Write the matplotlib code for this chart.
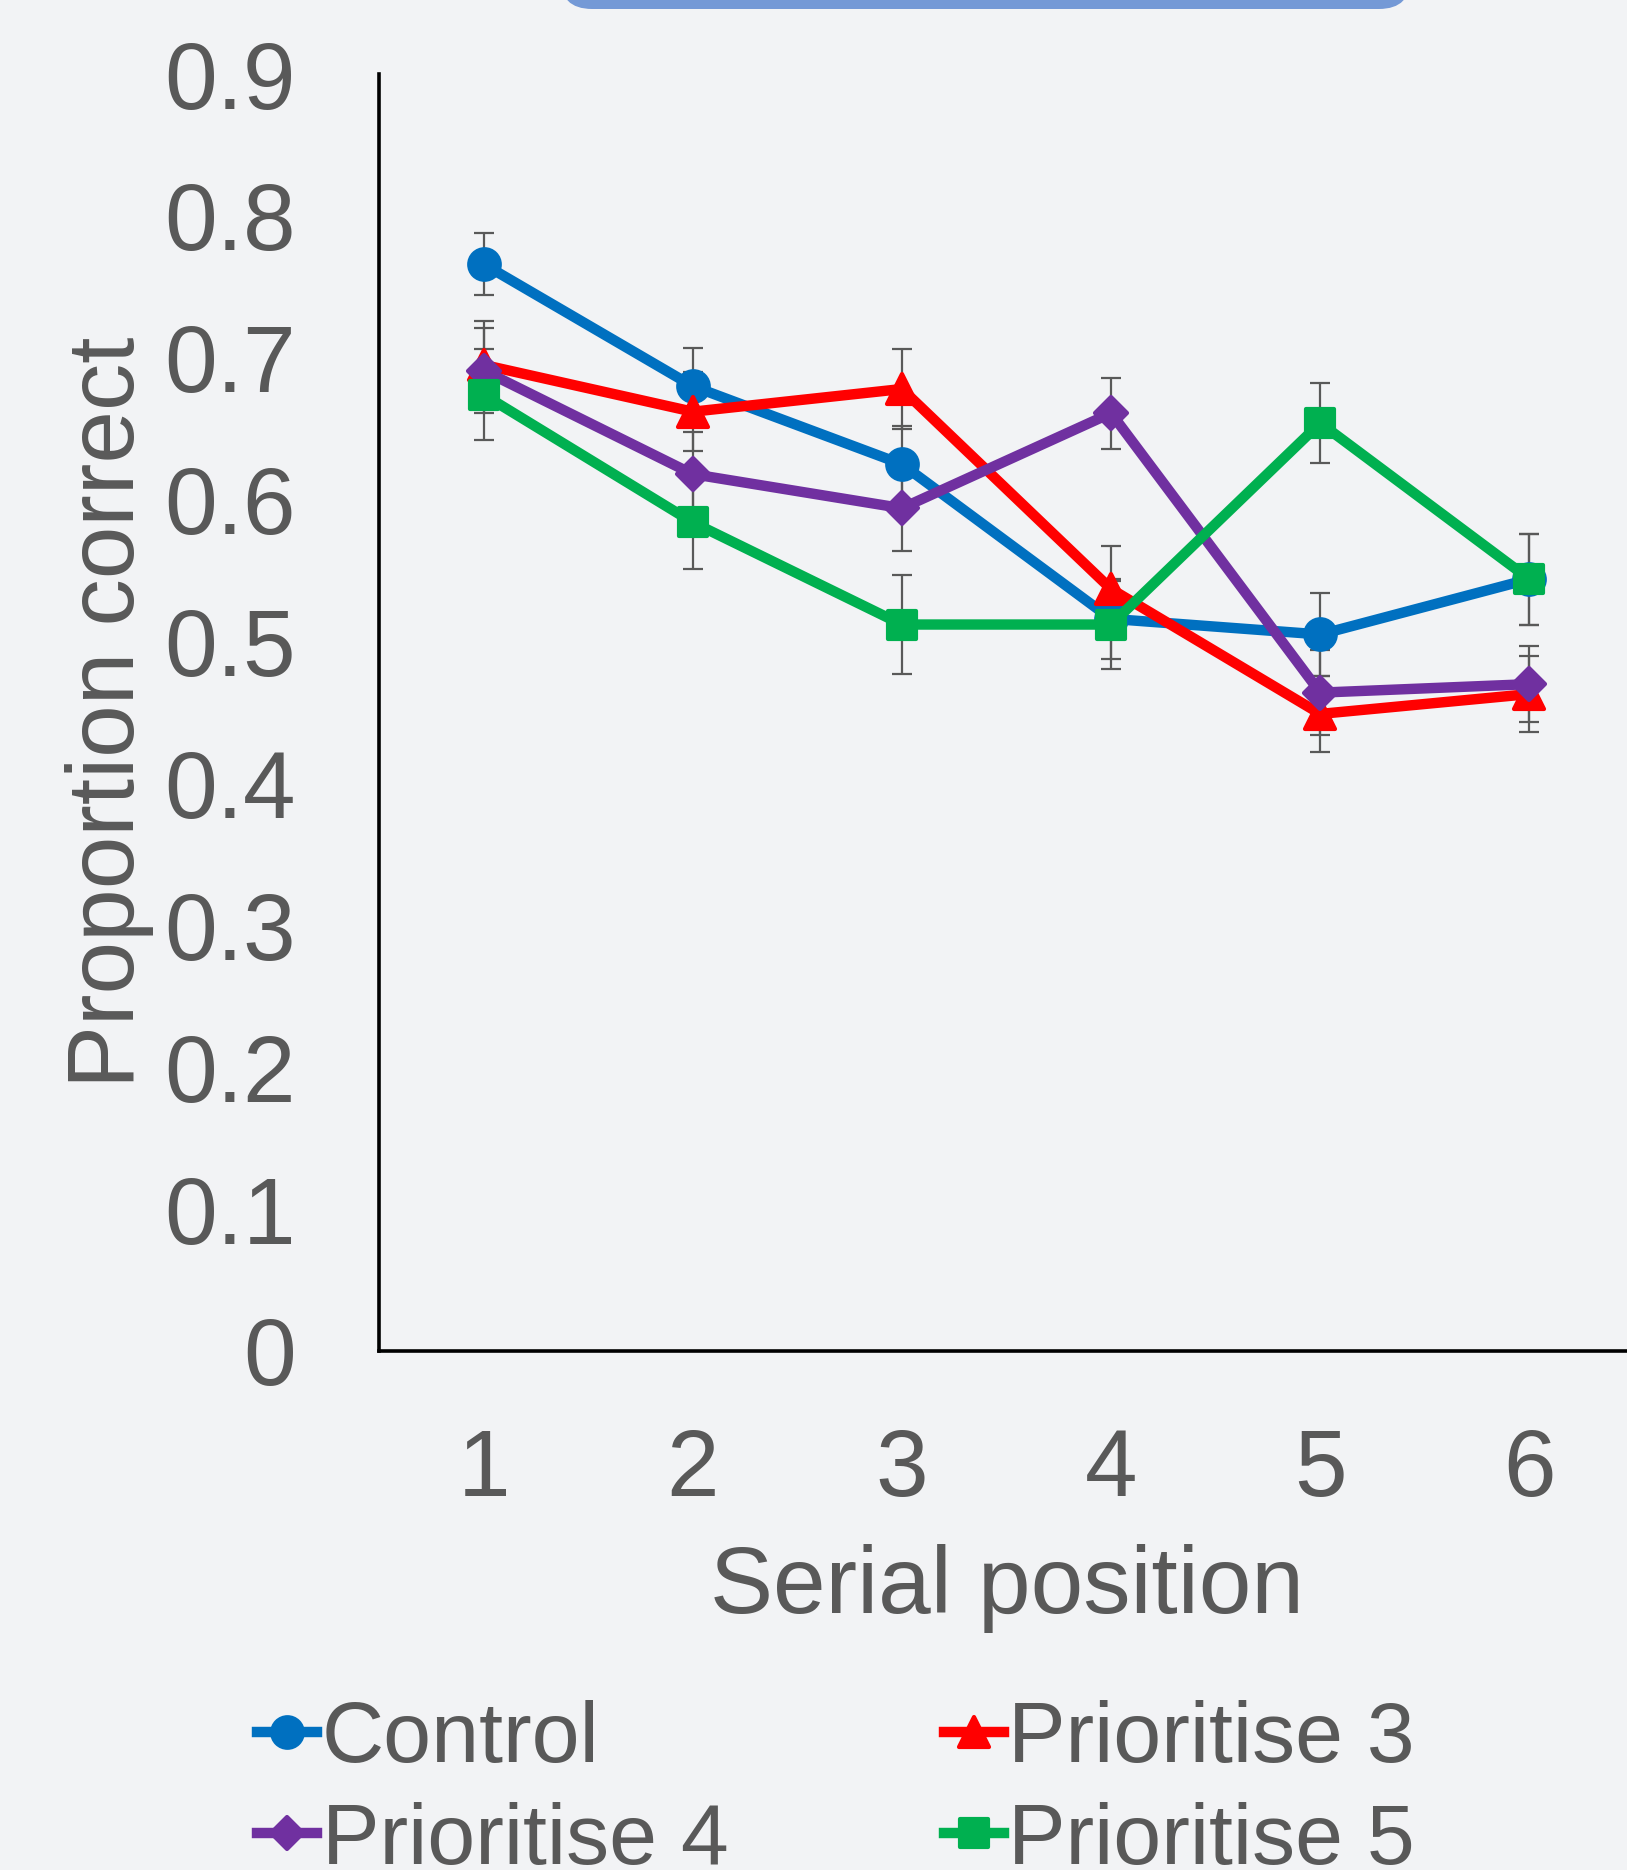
import matplotlib
matplotlib.use("Agg")
import matplotlib.pyplot as plt
from matplotlib.markers import MarkerStyle
from matplotlib.patches import FancyBboxPatch
from matplotlib.transforms import IdentityTransform

plt.rcParams['font.family'] = ['Liberation Sans', 'DejaVu Sans']

positions = [1, 2, 3, 4, 5, 6]
series_names = ["Control", "Prioritise 3", "Prioritise 4", "Prioritise 5"]
control = [0.766, 0.680, 0.625, 0.516, 0.505, 0.544]
prioritise3 = [0.695, 0.662, 0.678, 0.537, 0.449, 0.463]
prioritise4 = [0.691, 0.618, 0.594, 0.661, 0.464, 0.470]
prioritise5 = [0.674, 0.584, 0.512, 0.512, 0.654, 0.544]
control_err = [0.022, 0.027, 0.027, 0.028, 0.029, 0.032]
prioritise3_err = [0.031, 0.028, 0.028, 0.030, 0.027, 0.027]
prioritise4_err = [0.030, 0.030, 0.030, 0.025, 0.030, 0.027]
prioritise5_err = [0.032, 0.033, 0.035, 0.031, 0.028, 0.032]
yticks = [0, 0.1, 0.2, 0.3, 0.4, 0.5, 0.6, 0.7, 0.8, 0.9]
ytick_labels = ["0", "0.1", "0.2", "0.3", "0.4", "0.5", "0.6", "0.7", "0.8", "0.9"]

colors = ["#0070C0", "#FF0000", "#7030A0", "#00B050"]
markers = ["o", "^", "D", "s"]
msizes = [22, 22, 16, 20]
values = [control, prioritise3, prioritise4, prioritise5]
errors = [control_err, prioritise3_err, prioritise4_err, prioritise5_err]

BG = "#F2F3F5"
TXT = "#595959"
W, H, DPI = 1627, 1870, 100

fig = plt.figure(figsize=(W / DPI, H / DPI), dpi=DPI, facecolor=BG)
ax = fig.add_axes([379 / W, 1 - 1351 / H, (1634 - 379) / W, (1351 - 74) / H])
ax.set_facecolor(BG)

handles = []
for name, vals, errs, c, m, ms in zip(series_names, values, errors, colors, markers, msizes):
    ax.errorbar(positions, vals, yerr=errs, fmt="none", ecolor=TXT,
                elinewidth=1.6, capsize=7, capthick=1.6, zorder=2)
    ln, = ax.plot(positions, vals, color=c, lw=7.5,
                  marker=MarkerStyle(m, joinstyle="round"), ms=ms,
                  mfc=c, mec=c, mew=3, zorder=3, solid_joinstyle="round",
                  label=name)
    handles.append(ln)

ax.set_xlim(0.5, 6.5)
ax.set_ylim(0, 0.9)
ax.set_xticks(positions)
ax.set_xticklabels([str(p) for p in positions])
ax.set_yticks(yticks)
ax.set_yticklabels(ytick_labels)
ax.tick_params(axis="both", length=0, labelsize=68, colors=TXT)
ax.tick_params(axis="y", pad=60)
ax.tick_params(axis="x", pad=55)
for s in ["top", "right"]:
    ax.spines[s].set_visible(False)
for s in ["left", "bottom"]:
    ax.spines[s].set_color("black")
    ax.spines[s].set_linewidth(2.6)

ax.set_xlabel("Serial position", fontsize=68, color=TXT, labelpad=20)
ax.set_ylabel("Proportion correct", fontsize=68, color=TXT, labelpad=7)

order = [0, 2, 1, 3]
leg = fig.legend([handles[i] for i in order], [series_names[i] for i in order],
                 ncol=2, loc="upper left", bbox_to_anchor=(257 / W, 1 - 1700 / H),
                 frameon=False, fontsize=62, handlelength=0.7, handletextpad=0.05,
                 columnspacing=2.5, labelspacing=0.25, borderpad=0, borderaxespad=0)
for t in leg.get_texts():
    t.set_color(TXT)

# rounded title box peeking at the top
box = FancyBboxPatch((560, H - 9), 1411 - 560, 80,
                     boxstyle="round,pad=0,rounding_size=32",
                     transform=IdentityTransform(), facecolor="#7499D6",
                     edgecolor="none")
fig.patches.append(box)

fig.savefig("out.png", dpi=DPI, facecolor=BG)
